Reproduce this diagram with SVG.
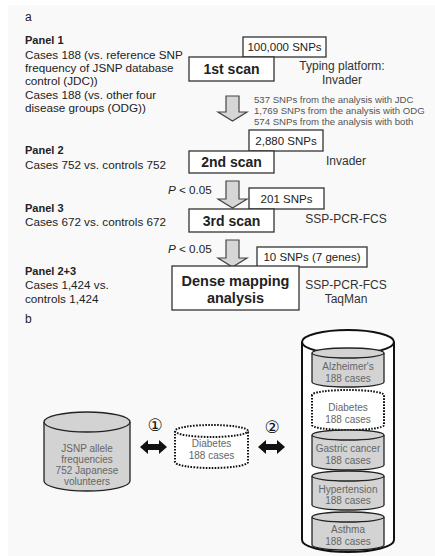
<svg xmlns="http://www.w3.org/2000/svg" width="435" height="556" viewBox="0 0 435 556">
<defs>
<style>
text{font-family:"Liberation Sans",Arial,sans-serif;fill:#222}
.pl{font-size:11px;font-weight:bold}
.tx{font-size:11.7px}
.bx{fill:#fff;stroke:#333;stroke-width:1.3}
.sc{font-size:14px;font-weight:bold;text-anchor:middle}
.sn{font-size:11.5px;text-anchor:middle}
.pf{font-size:12px;text-anchor:middle;fill:#333}
.sm{font-size:9.6px;fill:#555}
.ar{fill:#d6d6d6;stroke:#444;stroke-width:1.2}
.cy{fill:#d3d3d3;stroke:#222;stroke-width:1.3}
.dt{fill:#fff;stroke:#111;stroke-width:2;stroke-dasharray:1.6 1.4}
.ct{font-size:10px;text-anchor:middle;fill:#666}
.da{fill:#111}
.cn{font-size:17px;text-anchor:middle;font-family:"DejaVu Sans","Noto Sans CJK JP",sans-serif;fill:#111}
</style>
</defs>
<rect x="8" y="5" width="427" height="551" fill="#f9f9f9"/>

<g id="labels-a">
<text x="25" y="21" style="font-size:12px">a</text>
<text class="pl" x="25" y="44">Panel 1</text>
<text class="tx" x="25" y="59">Cases 188 (vs. reference SNP</text>
<text class="tx" x="25" y="72">frequency of JSNP database</text>
<text class="tx" x="25" y="85">control (JDC))</text>
<text class="tx" x="25" y="99">Cases 188 (vs. other four</text>
<text class="tx" x="25" y="112">disease groups (ODG))</text>
<text class="pl" x="25" y="154">Panel 2</text>
<text class="tx" x="25" y="169">Cases 752 vs. controls 752</text>
<text class="pl" x="25" y="212">Panel 3</text>
<text class="tx" x="25" y="226">Cases 672 vs. controls 672</text>
<text class="pl" x="25" y="275">Panel 2+3</text>
<text class="tx" x="25" y="289">Cases 1,424 vs.</text>
<text class="tx" x="25" y="303">controls 1,424</text>
<text class="tx" x="168" y="194"><tspan font-style="italic">P</tspan> &lt; 0.05</text>
<text class="tx" x="168" y="253"><tspan font-style="italic">P</tspan> &lt; 0.05</text>
<text class="pf" x="342" y="70">Typing platform:</text>
<text class="pf" x="342" y="84">Invader</text>
<text class="pf" x="346" y="165">Invader</text>
<text class="pf" x="346" y="223">SSP-PCR-FCS</text>
<text class="pf" x="346" y="289">SSP-PCR-FCS</text>
<text class="pf" x="346" y="303">TaqMan</text>
<text class="sm" x="254" y="103">537 SNPs from the analysis with JDC</text>
<text class="sm" x="254" y="114">1,769 SNPs from the analysis with ODG</text>
<text class="sm" x="254" y="125">574 SNPs from the analysis with both</text>
</g>

<g id="connectors">
<path class="ar" d="M226,96 H239 V112 H247 L232.5,121 L218,112 H226 Z"/>
<path class="ar" d="M226,181 H239 V199 H247 L232.5,208 L218,199 H226 Z"/>
<path class="ar" d="M226,240 H239 V258 H247 L232.5,267 L218,258 H226 Z"/>
<path class="da" d="M140,447 L148,440 V444 H159 V440 L167,447 L159,454 V450 H148 V454 Z"/>
<path class="da" d="M258,447 L266,440 V444 H277 V440 L285,447 L277,454 V450 H266 V454 Z"/>
</g>

<g id="snp100k"><rect class="bx" x="243" y="37" width="83" height="20"/><text class="sn" x="284.5" y="51">100,000 SNPs</text></g>
<g id="scan1"><rect class="bx" x="189" y="57" width="85" height="24"/><text class="sc" x="231.5" y="74">1st scan</text></g>
<g id="snp2880"><rect class="bx" x="249" y="130" width="74" height="21"/><text class="sn" x="286" y="145">2,880 SNPs</text></g>
<g id="scan2"><rect class="bx" x="189" y="151" width="85" height="22"/><text class="sc" x="231.5" y="167">2nd scan</text></g>
<g id="snp201"><rect class="bx" x="249" y="188" width="75" height="21"/><text class="sn" x="286.5" y="203">201 SNPs</text></g>
<g id="scan3"><rect class="bx" x="189" y="209" width="85" height="23"/><text class="sc" x="231.5" y="226">3rd scan</text></g>
<g id="snp10"><rect class="bx" x="257" y="247" width="110" height="20"/><text class="sn" x="312" y="261">10 SNPs (7 genes)</text></g>
<g id="dense"><rect class="bx" x="172" y="266" width="127" height="44"/><text class="sc" x="235.5" y="286" style="font-size:14.5px">Dense mapping</text><text class="sc" x="235.5" y="303" style="font-size:14.5px">analysis</text></g>

<g id="label-b"><text x="25" y="323" style="font-size:12px">b</text></g>

<g id="jsnp">
<path class="cy" d="M44,422 V481 A43,10 0 0 0 130,481 V422"/>
<ellipse class="cy" cx="87" cy="422" rx="43" ry="10"/>
<text class="ct" x="87" y="452">JSNP allele</text>
<text class="ct" x="87" y="463">frequencies</text>
<text class="ct" x="87" y="474">752 Japanese</text>
<text class="ct" x="87" y="485">volunteers</text>
</g>
<g id="n1"><text class="cn" x="155" y="431">①</text></g>
<g id="n2"><text class="cn" x="272" y="433">②</text></g>

<g id="diabetes-mid">
<path class="dt" d="M175,431 V462 A36.5,6 0 0 0 248,462 V431 A36.5,6 0 0 0 175,431 Z"/>
<path class="dt" d="M175,431 A36.5,6 0 0 0 248,431" fill="none"/>
<text class="ct" x="211.5" y="447">Diabetes</text>
<text class="ct" x="211.5" y="459">188 cases</text>
</g>

<g id="odg">
<path d="M302,342 V540 A46,12 0 0 0 394,540 V342" fill="#fff" stroke="#111" stroke-width="2"/>
<ellipse cx="348" cy="342" rx="46" ry="12" fill="#fff" stroke="#111" stroke-width="2"/>
<g id="alz">
<path class="cy" d="M312,353 V382 A36,5 0 0 0 384,382 V353"/>
<ellipse class="cy" cx="348" cy="353" rx="36" ry="5"/>
<text class="ct" x="348" y="370">Alzheimer's</text><text class="ct" x="348" y="382">188 cases</text>
</g>
<g id="dia">
<path class="dt" d="M312,395 V425 A36,5 0 0 0 384,425 V395 A36,5 0 0 0 312,395 Z"/>
<text class="ct" x="348" y="411">Diabetes</text><text class="ct" x="348" y="423">188 cases</text>
</g>
<g id="gas">
<path class="cy" d="M312,435 V465 A36,5 0 0 0 384,465 V435"/>
<ellipse class="cy" cx="348" cy="435" rx="36" ry="5"/>
<text class="ct" x="348" y="452">Gastric cancer</text><text class="ct" x="348" y="464">188 cases</text>
</g>
<g id="hyp">
<path class="cy" d="M312,476 V505 A36,5 0 0 0 384,505 V476"/>
<ellipse class="cy" cx="348" cy="476" rx="36" ry="5"/>
<text class="ct" x="348" y="493">Hypertension</text><text class="ct" x="348" y="504">188 cases</text>
</g>
<g id="ast">
<path class="cy" d="M312,517 V545 A36,5 0 0 0 384,545 V517"/>
<ellipse class="cy" cx="348" cy="517" rx="36" ry="5"/>
<text class="ct" x="348" y="533">Asthma</text><text class="ct" x="348" y="545">188 cases</text>
</g>
</g>
</svg>
